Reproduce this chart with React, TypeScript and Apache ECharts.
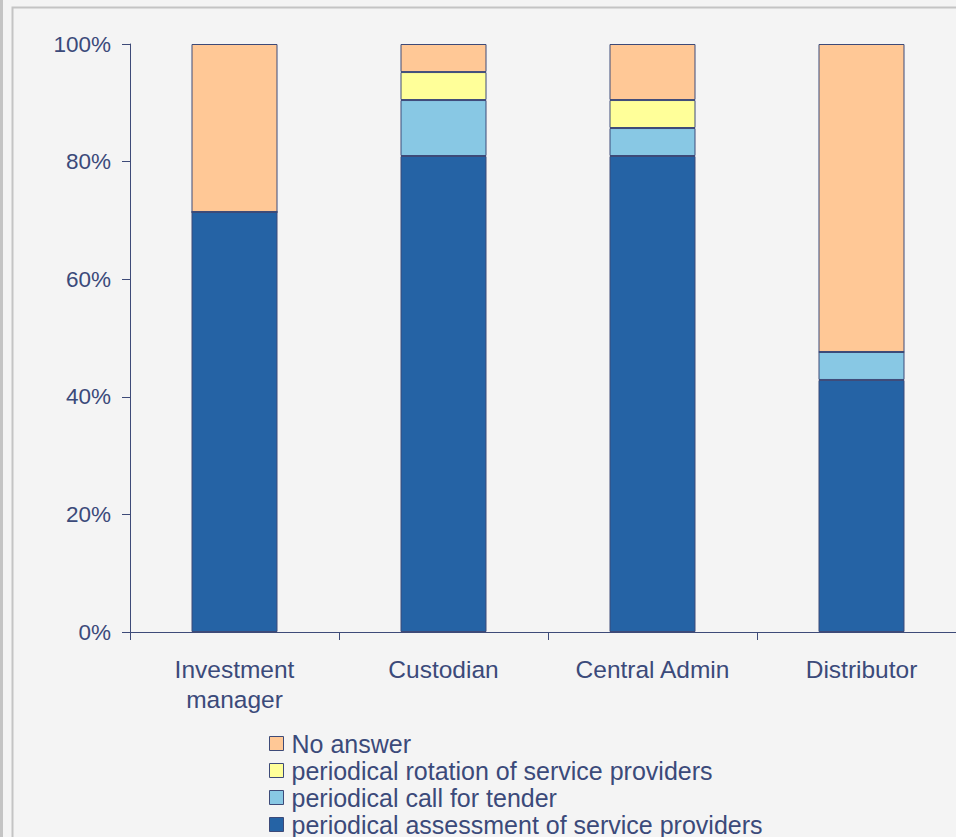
import React, { useEffect, useRef } from "react";
import * as echarts from "echarts";

const categories = ["Investment\nmanager", "Custodian", "Central Admin", "Distributor"];
const assessment = [71.43, 80.95, 80.95, 42.86];
const callForTender = [0, 9.52, 4.76, 4.76];
const rotation = [0, 4.76, 4.76, 0];
const noAnswer = [28.57, 4.77, 9.53, 52.38];
const yTicks = [0, 20, 40, 60, 80, 100];

const TEXT = "#3b4a7a";
const EDGE = "#3d4a78";

export default function App() {
  const ref = useRef<HTMLDivElement>(null);
  useEffect(() => {
    const chart = echarts.init(ref.current!, null, { renderer: "svg" });
    const mk = (name: string, data: number[], color: string) => ({
      name,
      type: "bar",
      stack: "s",
      barWidth: 86,
      data,
      itemStyle: { color, borderColor: EDGE, borderWidth: 1 },
    });
    chart.setOption({
      animation: false,
      backgroundColor: "#f4f4f4",
      textStyle: { fontFamily: "Liberation Sans, Arial, sans-serif" },
      graphic: [
        { type: "rect", shape: { x: 0, y: 0, width: 3, height: 837 }, style: { fill: "#c4c4c4" } },
        {
          type: "rect",
          shape: { x: 12.5, y: 7.5, width: 1000, height: 1000 },
          style: { fill: "none", stroke: "#c4c4c4", lineWidth: 2 },
          z: -1,
        },
      ],
      grid: {
        left: 130,
        top: 44,
        width: 836,
        height: 588,
        containLabel: false,
        outerBoundsMode: "none",
      },
      xAxis: {
        type: "category",
        data: categories,
        axisLine: { lineStyle: { color: EDGE, width: 1 } },
        axisTick: { show: true, length: 8, lineStyle: { color: EDGE }, alignWithLabel: false },
        axisLabel: { color: TEXT, fontSize: 24.5, lineHeight: 30, margin: 22, interval: 0 },
      },
      yAxis: {
        type: "value",
        min: 0,
        max: 100,
        interval: 20,
        axisLine: { show: true, lineStyle: { color: EDGE, width: 1 } },
        axisTick: { show: true, length: 8, inside: false, lineStyle: { color: EDGE } },
        splitLine: { show: false },
        axisLabel: {
          color: TEXT,
          fontSize: 22.5,
          margin: 19,
          formatter: (v: number) => (yTicks.includes(v) ? v + "%" : ""),
        },
      },
      legend: {
        orient: "vertical",
        left: 269,
        top: 730,
        height: 200,
        padding: 0,
        itemWidth: 14,
        itemHeight: 14,
        itemGap: 0,
        icon: "rect",
        textStyle: { color: TEXT, fontSize: 25, lineHeight: 27, padding: [0, 0, 0, 3] },
        data: [
          "No answer",
          "periodical rotation of service providers",
          "periodical call for tender",
          "periodical assessment of service providers",
        ],
        itemStyle: { borderColor: EDGE, borderWidth: 1 },
      },
      series: [
        mk("periodical assessment of service providers", assessment, "#2563a5"),
        mk("periodical call for tender", callForTender, "#88c8e4"),
        mk("periodical rotation of service providers", rotation, "#ffff99"),
        mk("No answer", noAnswer, "#ffc896"),
      ],
    });
    return () => chart.dispose();
  }, []);
  return <div ref={ref} style={{ position: "absolute", left: 0, top: 0, width: 956, height: 837 }} />;
}
